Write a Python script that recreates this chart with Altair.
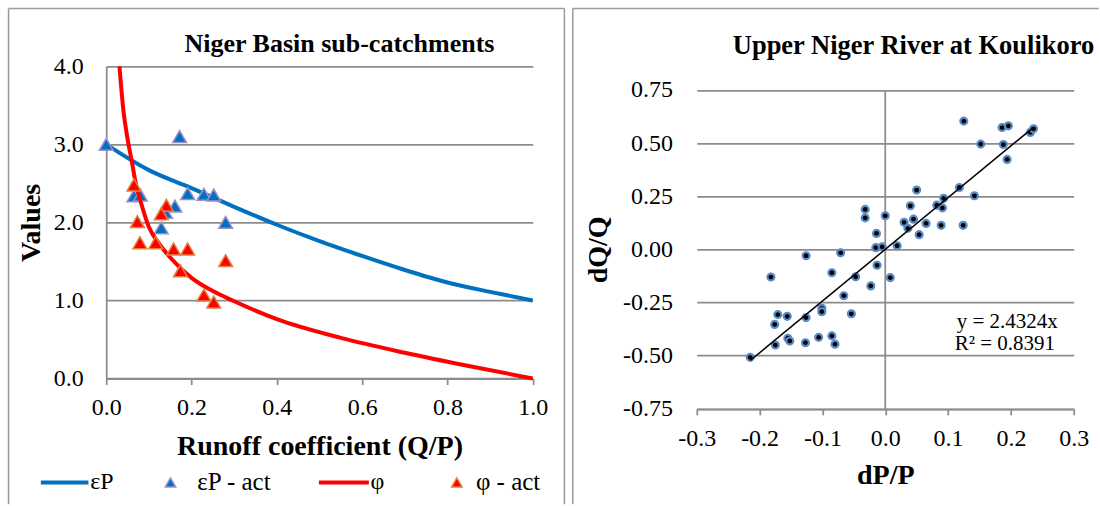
import altair as alt
import pandas as pd

# ---------------- data: left panel (Niger Basin sub-catchments) ----------------
ep_x = [0.0, 0.1, 0.2, 0.3, 0.4, 0.5, 0.6, 0.7, 0.8, 0.9, 1.0]
ep_y = [3.0, 2.67, 2.44, 2.2, 1.97, 1.76, 1.57, 1.39, 1.23, 1.11, 1.0]

phi_x = [0.031, 0.04, 0.05, 0.06, 0.07, 0.08, 0.1, 0.125, 0.15, 0.2, 0.25, 0.3, 0.4, 0.55, 0.7, 0.85, 1.0]
phi_y = [4.0, 3.45, 3.07, 2.78, 2.48, 2.28, 1.94, 1.72, 1.55, 1.29, 1.12, 0.99, 0.76, 0.52, 0.33, 0.16, 0.0]

ep_act_x = [0.0, 0.172, 0.065, 0.080, 0.191, 0.229, 0.252, 0.161, 0.139, 0.129, 0.280]
ep_act_y = [3.0, 3.10, 2.34, 2.35, 2.37, 2.36, 2.35, 2.21, 2.13, 1.93, 2.0]

phi_act_x = [0.065, 0.073, 0.141, 0.129, 0.079, 0.116, 0.158, 0.191, 0.174, 0.280, 0.229, 0.252]
phi_act_y = [2.48, 2.01, 2.22, 2.11, 1.74, 1.74, 1.66, 1.66, 1.38, 1.51, 1.07, 0.98]

left_x_ticks = [0.0, 0.2, 0.4, 0.6, 0.8, 1.0]
left_y_ticks = [0.0, 1.0, 2.0, 3.0, 4.0]

# ---------------- data: right panel (Upper Niger River at Koulikoro) ----------------
dp = [0.125, 0.186, 0.196, 0.231, 0.236, 0.152, 0.188, 0.194, 0.118, 0.142,
      0.050, 0.093, 0.082, 0.091, 0.040, -0.032, -0.032, 0.000, 0.030, 0.045,
      0.036, 0.065, 0.089, 0.124, 0.054, -0.014, -0.015, -0.005, 0.019, -0.013,
      0.008, -0.047, -0.085, -0.126, -0.071, -0.182,
      -0.023, -0.066, -0.101, -0.101, -0.054, -0.171, -0.156, -0.126, -0.176,
      -0.155, -0.152, -0.175, -0.127, -0.106, -0.085, -0.080, -0.215]
dq = [0.603, 0.573, 0.581, 0.550, 0.567, 0.495, 0.493, 0.423, 0.291, 0.252,
      0.279, 0.240, 0.208, 0.195, 0.205, 0.188, 0.148, 0.158, 0.127, 0.142,
      0.099, 0.122, 0.113, 0.113, 0.069, 0.075, 0.008, 0.012, 0.017, -0.075,
      -0.133, -0.129, -0.110, -0.030, -0.016, -0.130,
      -0.172, -0.218, -0.277, -0.293, -0.303, -0.307, -0.315, -0.321, -0.353,
      -0.418, -0.431, -0.450, -0.439, -0.414, -0.407, -0.446, -0.508]

slope = 2.4324
r_squared = 0.8391
trend_x = [-0.215, 0.236]
trend_y = [slope * v for v in trend_x]

right_x_ticks = [-0.3, -0.2, -0.1, 0.0, 0.1, 0.2, 0.3]
right_y_ticks = [-0.75, -0.5, -0.25, 0.0, 0.25, 0.5, 0.75]

# ---------------- styling ----------------
FONT = "Liberation Serif"
GRID = "#8c8c8c"
FRAME = "#9a9a9a"
BLUE = "#0070c0"
RED = "#ff0000"
TICK_FS = 24

W1, H1 = 426.6, 312.3
W2, H2 = 377.0, 342.6
TOP2 = 23.6
SPACING = 163.7

one = pd.DataFrame({"k": [0]})


def txt(s, x, y, size=24, weight="normal", align="left", baseline="middle"):
    return alt.Chart(one).mark_text(
        font=FONT, fontSize=size, fontWeight=weight, align=align,
        baseline=baseline, color="black"
    ).encode(x=alt.value(x), y=alt.value(y), text=alt.value(s))


def seg(x, x2, y, y2, color, width):
    return alt.Chart(one).mark_rule(color=color, strokeWidth=width).encode(
        x=alt.value(x), x2=alt.value(x2), y=alt.value(y), y2=alt.value(y2)
    )


def sym(x, y, fill, stroke, size):
    return alt.Chart(one).mark_point(
        shape="triangle-up", filled=True, fill=fill, stroke=stroke,
        strokeWidth=1.5, size=size, opacity=1
    ).encode(x=alt.value(x), y=alt.value(y))


label_style = dict(labelFont=FONT, labelFontSize=TICK_FS, labelColor="black",
                   labelFontWeight="normal",
                   labelFlush=False, labelOverlap=False, labelBound=False,
                   titleFont=FONT, titleFontSize=28, titleFontWeight="bold",
                   titleColor="black")

# ---------------- left panel ----------------
xl = alt.X("x:Q", scale=alt.Scale(domain=[0, 1], nice=False),
           axis=alt.Axis(values=left_x_ticks, format=".1f",
                         title="Runoff coefficient (Q/P)", grid=False,
                         domain=True, domainColor=GRID, domainWidth=1.75,
                         ticks=True, tickColor=GRID, tickWidth=1.75, tickSize=6,
                         labelPadding=11, titleX=W1 / 2, titleY=67.5,
                         titleBaseline="middle", **label_style))
yl = alt.Y("y:Q", scale=alt.Scale(domain=[0, 4], nice=False),
           axis=alt.Axis(values=left_y_ticks, format=".1f", title="Values",
                         grid=True, gridColor=GRID, gridWidth=1.75,
                         domain=True, domainColor=GRID, domainWidth=1.75,
                         ticks=False, tickSize=0, labelPadding=23,
                         titleX=-74.7, titleY=H1 / 2, titleBaseline="middle",
                         **label_style))

ep_line = alt.Chart(pd.DataFrame({"x": ep_x, "y": ep_y})).mark_line(
    color=BLUE, strokeWidth=4, interpolate="monotone").encode(x=xl, y=yl)
phi_line = alt.Chart(pd.DataFrame({"x": phi_x, "y": phi_y})).mark_line(
    color=RED, strokeWidth=4, interpolate="monotone").encode(x=xl, y=yl)
ep_pts = alt.Chart(pd.DataFrame({"x": ep_act_x, "y": ep_act_y})).mark_point(
    shape="triangle-up", filled=True, fill=BLUE, stroke="#9d8fc8",
    strokeWidth=1.5, size=190, opacity=1).encode(x=xl, y=yl)
phi_pts = alt.Chart(pd.DataFrame({"x": phi_act_x, "y": phi_act_y})).mark_point(
    shape="triangle-up", filled=True, fill=RED, stroke="#e8803a",
    strokeWidth=1.5, size=190, opacity=1).encode(x=xl, y=yl)

LY = 416.3
left = alt.layer(
    seg(-97.7, -97.7, -57.7, 438, FRAME, 1.5),
    seg(-97.7, 458.3, -57.7, -57.7, FRAME, 1.5),
    seg(458.3, 458.3, -57.7, 438, FRAME, 1.5),
    ep_line, ep_pts, phi_line, phi_pts,
    txt("Niger Basin sub-catchments", 233.3, -22.7, size=26, weight="bold", align="center"),
    seg(-65.4, -17.8, LY, LY, BLUE, 4),
    txt("εP", -16.0, LY),
    sym(64.3, LY, BLUE, "#9d8fc8", 110),
    txt("εP - act", 91.0, LY, size=25),
    seg(212.7, 262.7, LY, LY, RED, 4),
    txt("φ", 264.3, LY),
    sym(350.7, LY, RED, "#e8803a", 110),
    txt("φ - act", 369.8, LY, size=25),
).properties(width=W1, height=H1)

# ---------------- right panel ----------------
minus_fix = "replace(format(datum.value, '{f}'), '\u2212', '-')"
xr = alt.X("dp:Q", scale=alt.Scale(domain=[-0.3, 0.3], nice=False, zero=False),
           axis=alt.Axis(values=right_x_ticks, labelExpr=minus_fix.format(f=".1f"),
                         title="dP/P", grid=False,
                         domain=True, domainColor=GRID, domainWidth=1.75,
                         ticks=True, tickColor=GRID, tickWidth=1.75, tickSize=6,
                         labelPadding=12, titleX=W2 / 2, titleY=66.7,
                         titleBaseline="middle", **label_style))
yr = alt.Y("dq:Q", scale=alt.Scale(domain=[-0.75, 0.75], range=[H2, TOP2],
                                   nice=False, zero=False),
           axis=alt.Axis(values=right_y_ticks, labelExpr=minus_fix.format(f=".2f"),
                         title="dQ/Q", grid=True, gridColor=GRID, gridWidth=1.75,
                         domain=False, ticks=False, tickSize=0, labelPadding=24.3,
                         titleX=-98, titleY=(H2 + TOP2) / 2,
                         titleBaseline="middle", **label_style))

zero_axis = alt.Chart(pd.DataFrame({"dp": [0.0], "dq": [-0.75], "dq2": [0.75]})).mark_rule(
    color=GRID, strokeWidth=1.75).encode(x=xr, y=yr, y2="dq2:Q")
pts = alt.Chart(pd.DataFrame({"dp": dp, "dq": dq})).mark_circle(
    size=48, fill="black", stroke="#5a8ac6", strokeWidth=2.2, opacity=1).encode(x=xr, y=yr)
trend = alt.Chart(pd.DataFrame({"dp": trend_x, "dq": trend_y})).mark_line(
    color="black", strokeWidth=1.5).encode(x=xr, y=yr)

right = alt.layer(
    seg(-124, -124, -57.7, 438, FRAME, 1.5),
    seg(-124, 402, -57.7, -57.7, FRAME, 1.5),
    zero_axis, pts, trend,
    txt("Upper Niger River at Koulikoro", 36, -20.7, size=26.5, weight="bold"),
    txt(f"y = {slope}x", 260, 255.3, size=21),
    txt(f"R² = {r_squared}", 258, 277.3, size=21),
).properties(width=W2, height=H2)

chart = alt.hconcat(left, right, spacing=SPACING, bounds="flush").properties(
    padding={"left": 7.25, "top": 7.25, "right": 0, "bottom": 0},
    background="white",
).configure_view(stroke=None)

chart.save("out.html", embed_options={"renderer": "svg", "actions": False})
